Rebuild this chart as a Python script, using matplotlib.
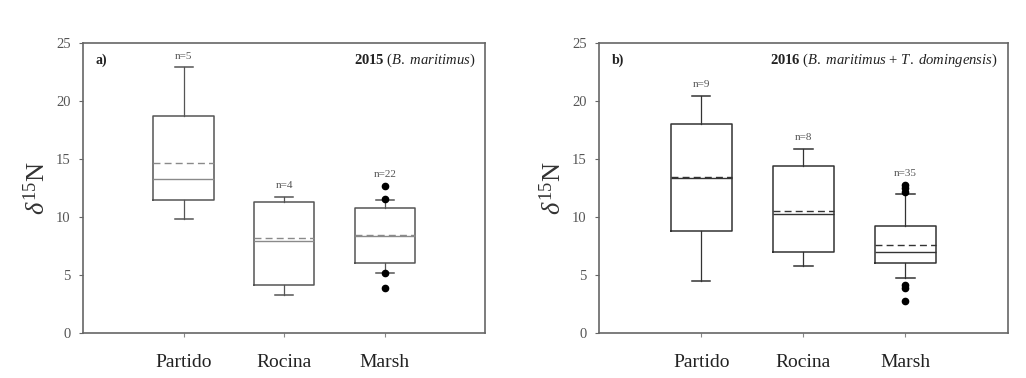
import matplotlib
matplotlib.use("Agg")
import matplotlib.pyplot as plt

plt.rcParams["font.family"] = ["Liberation Serif", "DejaVu Serif"]
plt.rcParams["mathtext.fontset"] = "custom"
plt.rcParams["mathtext.rm"] = "Liberation Serif"
plt.rcParams["mathtext.it"] = "Liberation Serif:italic"
plt.rcParams["mathtext.bf"] = "Liberation Serif:bold"

sites = ["Partido", "Rocina", "Marsh"]

# 2015 summary statistics (delta 15N)
y2015_whislo = [9.8, 3.3, 5.2]
y2015_q1 = [11.5, 4.1, 6.05]
y2015_med = [13.3, 7.95, 8.35]
y2015_mean = [14.7, 8.2, 8.45]
y2015_q3 = [18.75, 11.3, 10.8]
y2015_whishi = [22.9, 11.75, 11.45]
y2015_fliers = [[], [], [12.7, 11.55, 5.2, 3.9]]
y2015_n = [5, 4, 22]

# 2016 summary statistics (delta 15N)
y2016_whislo = [4.5, 5.8, 4.75]
y2016_q1 = [8.8, 7.0, 6.0]
y2016_med = [13.35, 10.3, 7.0]
y2016_mean = [13.45, 10.55, 7.6]
y2016_q3 = [18.0, 14.4, 9.2]
y2016_whishi = [20.4, 15.85, 12.0]
y2016_fliers = [[], [], [12.8, 12.5, 12.2, 4.1, 3.9, 2.75]]
y2016_n = [9, 8, 35]


def make_stats(lo, q1, med, mean, q3, hi, fl):
    return [dict(whislo=a, q1=b, med=c, mean=d, q3=e, whishi=f, fliers=g)
            for a, b, c, d, e, f, g in zip(lo, q1, med, mean, q3, hi, fl)]


def draw_panel(ax, stats, counts, tag, year, species, color, medcolor):
    pos = [1, 2, 3]
    ax.bxp(stats, positions=pos, widths=0.6, capwidths=0.18,
           showmeans=True, meanline=True, showfliers=True,
           boxprops=dict(color=color, linewidth=1.1),
           whiskerprops=dict(color=color, linewidth=0.9),
           capprops=dict(color=color, linewidth=1.1),
           medianprops=dict(color=medcolor, linewidth=1.0),
           meanprops=dict(color=medcolor, linewidth=1.0, linestyle=(0, (5, 3))),
           flierprops=dict(marker="o", markerfacecolor="black",
                           markeredgecolor="black", markersize=4.5))
    for p, s, n in zip(pos, stats, counts):
        top = max([s["whishi"]] + list(s["fliers"]))
        ax.annotate(f"n={n}", xy=(p, top), xytext=(0, 5),
                    textcoords="offset points", ha="center", va="bottom",
                    fontsize=8, color="#555555")
    ax.set_xlim(0, 4)
    ax.set_ylim(0, 25)
    ax.set_yticks([0, 5, 10, 15, 20, 25])
    ax.set_xticks(pos)
    ax.set_xticklabels(sites, fontsize=14, color="#222222")
    ax.tick_params(axis="x", length=3, pad=12, color="#888888")
    ax.tick_params(axis="y", length=3, labelsize=10.5, color="#666666",
                   labelcolor="#555555", pad=6)
    for sp in ax.spines.values():
        sp.set_color("#666666")
        sp.set_linewidth(1.2)
    ax.set_ylabel(r"$\delta^{15}$N", fontsize=19, color="#333333", labelpad=4)
    ax.text(0.03, 0.94, tag, transform=ax.transAxes, fontsize=10,
            fontweight="bold", va="center", ha="left", color="#222222")
    ax.text(0.975, 0.94, r"$\mathbf{" + year + r"}$ (" + species + ")",
            transform=ax.transAxes, fontsize=10.5, va="center", ha="right",
            color="#222222")


fig = plt.figure(figsize=(10.26, 3.78), dpi=100)
ax1 = fig.add_axes([0.081, 0.119, 0.392, 0.767])
ax2 = fig.add_axes([0.584, 0.119, 0.398, 0.767])

draw_panel(ax1,
           make_stats(y2015_whislo, y2015_q1, y2015_med, y2015_mean,
                      y2015_q3, y2015_whishi, y2015_fliers),
           y2015_n, "a)", "2015", r"$\mathit{B.\ maritimus}$",
           "#555555", "#8a8a8a")
draw_panel(ax2,
           make_stats(y2016_whislo, y2016_q1, y2016_med, y2016_mean,
                      y2016_q3, y2016_whishi, y2016_fliers),
           y2016_n, "b)", "2016",
           r"$\mathit{B.\ maritimus}$ + $\mathit{T.\ domingensis}$",
           "#333333", "#333333")

fig.savefig("out.png", dpi=100)
